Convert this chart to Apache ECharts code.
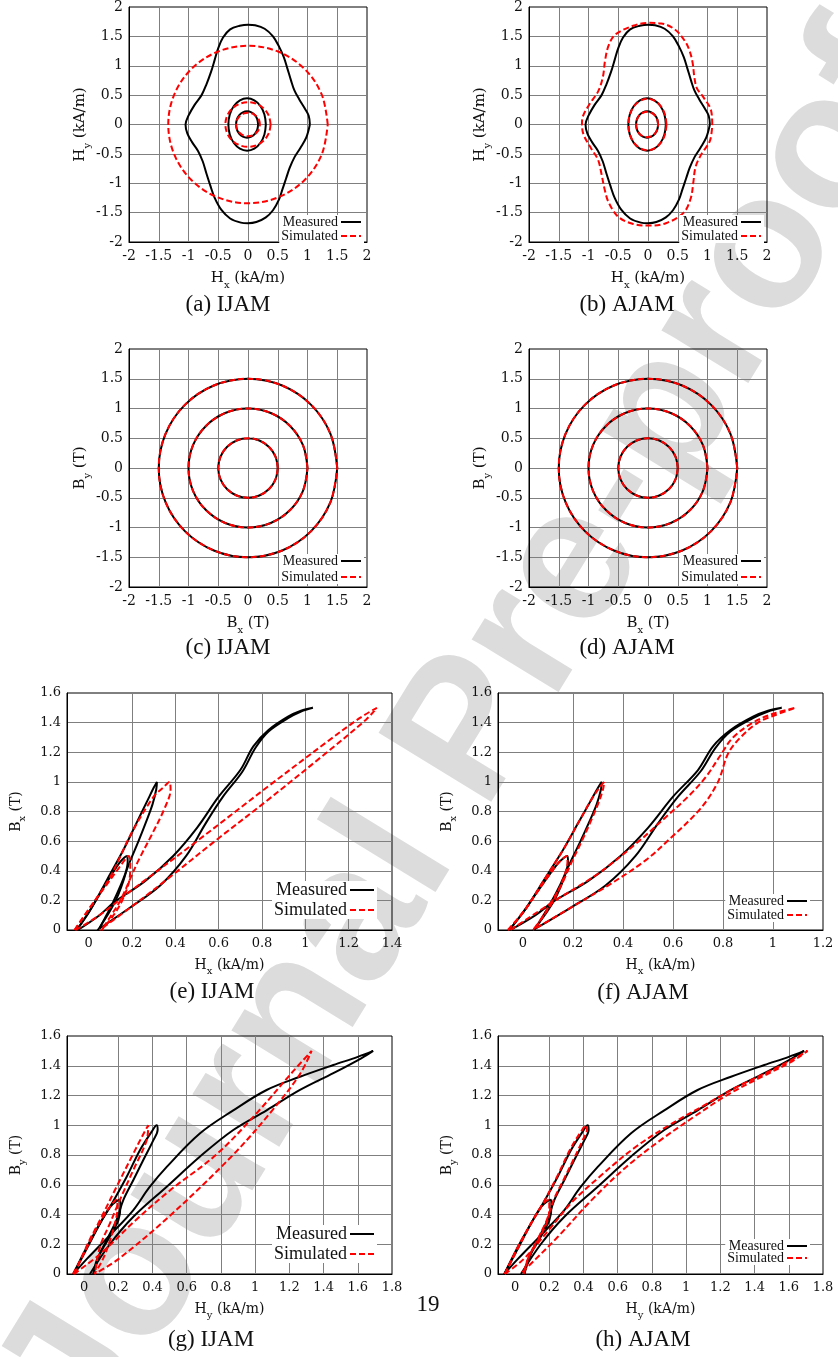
<!DOCTYPE html>
<html><head><meta charset="utf-8">
<script src="https://cdn.jsdelivr.net/npm/echarts@6/dist/echarts.min.js"></script>
<style>html,body{margin:0;padding:0;background:#fff}#c{width:838px;height:1357px}</style>
</head><body><div id="c"></div>
<script>
// ---------- H loci (kA/m) ----------
const hMeasOuter = [[1.04,0],[1.02,0.15],[0.95,0.28],[0.86,0.43],[0.78,0.58],[0.72,0.76],[0.66,0.96],[0.6,1.15],[0.52,1.33],[0.42,1.5],[0.28,1.63],[0.12,1.69],[0,1.7],[-0.14,1.68],[-0.3,1.62],[-0.42,1.48],[-0.5,1.3],[-0.56,1.1],[-0.62,0.9],[-0.7,0.68],[-0.78,0.5],[-0.9,0.33],[-1,0.15],[-1.05,0],[-1.02,-0.15],[-0.94,-0.3],[-0.84,-0.45],[-0.76,-0.63],[-0.7,-0.83],[-0.63,-1.05],[-0.56,-1.25],[-0.45,-1.45],[-0.3,-1.6],[-0.12,-1.67],[0,-1.68],[0.14,-1.66],[0.3,-1.58],[0.42,-1.46],[0.52,-1.28],[0.58,-1.1],[0.64,-0.92],[0.7,-0.74],[0.78,-0.56],[0.88,-0.4],[0.98,-0.22],[1.04,0]];
const hMeasMid = [[0.3,0],[0.276,0.17],[0.208,0.315],[0.106,0.411],[-0.015,0.445],[-0.136,0.411],[-0.238,0.315],[-0.306,0.17],[-0.33,0],[-0.306,-0.17],[-0.238,-0.315],[-0.136,-0.411],[-0.015,-0.445],[0.106,-0.411],[0.208,-0.315],[0.276,-0.17],[0.3,0]];
const hMeasInner = [[0.17,0],[0.156,0.086],[0.116,0.159],[0.056,0.208],[-0.015,0.225],[-0.086,0.208],[-0.146,0.159],[-0.186,0.086],[-0.2,0],[-0.186,-0.086],[-0.146,-0.159],[-0.086,-0.208],[-0.015,-0.225],[0.056,-0.208],[0.116,-0.159],[0.156,-0.086],[0.17,0]];
const hIjamOuter = [[1.34,0],[1.238,0.513],[0.948,0.948],[0.513,1.238],[0,1.34],[-0.513,1.238],[-0.948,0.948],[-1.238,0.513],[-1.34,0],[-1.238,-0.513],[-0.948,-0.948],[-0.513,-1.238],[0,-1.34],[0.513,-1.238],[0.948,-0.948],[1.238,-0.513],[1.34,0]];
const hIjamMid = [[0.38,0],[0.351,0.145],[0.269,0.269],[0.145,0.351],[0,0.38],[-0.145,0.351],[-0.269,0.269],[-0.351,0.145],[-0.38,0],[-0.351,-0.145],[-0.269,-0.269],[-0.145,-0.351],[0,-0.38],[0.145,-0.351],[0.269,-0.269],[0.351,-0.145],[0.38,0]];
const hIjamInner = [[0.2,0],[0.185,0.077],[0.141,0.141],[0.077,0.185],[0,0.2],[-0.077,0.185],[-0.141,0.141],[-0.185,0.077],[-0.2,0],[-0.185,-0.077],[-0.141,-0.141],[-0.077,-0.185],[0,-0.2],[0.077,-0.185],[0.141,-0.141],[0.185,-0.077],[0.2,0]];
const hAjamOuter = [[1.08,0],[1.06,0.24],[0.92,0.48],[0.82,0.62],[0.78,0.8],[0.75,1.05],[0.7,1.25],[0.62,1.42],[0.45,1.62],[0.22,1.72],[0,1.73],[-0.25,1.68],[-0.55,1.53],[-0.66,1.35],[-0.72,1.1],[-0.76,0.8],[-0.84,0.56],[-0.98,0.35],[-1.1,0.12],[-1.11,0],[-1.08,-0.18],[-0.96,-0.4],[-0.84,-0.6],[-0.78,-0.85],[-0.73,-1.1],[-0.66,-1.33],[-0.5,-1.57],[-0.26,-1.69],[0,-1.72],[0.3,-1.68],[0.6,-1.5],[0.72,-1.25],[0.76,-1],[0.8,-0.72],[0.9,-0.5],[1.04,-0.28],[1.08,0]];
const hAjamMid = [[0.31,0],[0.286,0.165],[0.216,0.31],[0.11,0.405],[-0.01,0.44],[-0.13,0.405],[-0.236,0.31],[-0.306,0.165],[-0.33,0],[-0.306,-0.165],[-0.236,-0.31],[-0.13,-0.405],[-0.01,-0.44],[0.11,-0.405],[0.216,-0.31],[0.286,-0.165],[0.31,0]];
const hAjamInner = [[0.17,0],[0.156,0.083],[0.116,0.154],[0.056,0.2],[-0.015,0.215],[-0.086,0.2],[-0.146,0.154],[-0.186,0.083],[-0.2,0],[-0.186,-0.083],[-0.146,-0.154],[-0.086,-0.2],[-0.015,-0.215],[0.056,-0.2],[0.116,-0.154],[0.156,-0.083],[0.17,0]];
// ---------- B loci (T) ----------
const bLocus05 = [[0.5,0],[0.462,0.191],[0.354,0.354],[0.191,0.462],[0,0.5],[-0.191,0.462],[-0.354,0.354],[-0.462,0.191],[-0.5,0],[-0.462,-0.191],[-0.354,-0.354],[-0.191,-0.462],[0,-0.5],[0.191,-0.462],[0.354,-0.354],[0.462,-0.191],[0.5,0]];
const bLocus10 = [[1,0],[0.924,0.383],[0.707,0.707],[0.383,0.924],[0,1],[-0.383,0.924],[-0.707,0.707],[-0.924,0.383],[-1,0],[-0.924,-0.383],[-0.707,-0.707],[-0.383,-0.924],[0,-1],[0.383,-0.924],[0.707,-0.707],[0.924,-0.383],[1,0]];
const bLocus15 = [[1.5,0],[1.386,0.574],[1.061,1.061],[0.574,1.386],[0,1.5],[-0.574,1.386],[-1.061,1.061],[-1.386,0.574],[-1.5,0],[-1.386,-0.574],[-1.061,-1.061],[-0.574,-1.386],[0,-1.5],[0.574,-1.386],[1.061,-1.061],[1.386,-0.574],[1.5,0]];
// ---------- Bx-Hx loops ----------
const mxSmall = [[-0.055,0],[0,0.12],[0.05,0.24],[0.1,0.36],[0.14,0.45],[0.165,0.49],[0.178,0.5],[0.18,0.46],[0.17,0.38],[0.15,0.29],[0.125,0.2],[0.095,0.12],[0.065,0.05],[0.045,0]];
const mxMid = [[-0.055,0],[0.01,0.14],[0.085,0.34],[0.16,0.54],[0.22,0.72],[0.27,0.87],[0.3,0.96],[0.315,1],[0.312,0.95],[0.295,0.85],[0.265,0.73],[0.23,0.6],[0.19,0.46],[0.15,0.31],[0.11,0.18],[0.075,0.08],[0.045,0]];
const mxLarge = [[-0.05,0],[0.05,0.1],[0.12,0.19],[0.26,0.33],[0.39,0.5],[0.5,0.69],[0.6,0.9],[0.7,1.08],[0.76,1.24],[0.83,1.35],[0.92,1.44],[0.98,1.48],[1.035,1.5],[0.98,1.475],[0.92,1.43],[0.83,1.34],[0.77,1.23],[0.71,1.07],[0.62,0.9],[0.54,0.72],[0.45,0.5],[0.33,0.3],[0.19,0.15],[0.04,0]];
const sxIjamSmall = [[-0.065,0],[0,0.14],[0.08,0.3],[0.14,0.42],[0.17,0.48],[0.185,0.5],[0.192,0.45],[0.19,0.36],[0.155,0.2],[0.11,0.09],[0.06,0]];
const sxIjamMid = [[-0.065,0],[0.02,0.18],[0.1,0.36],[0.2,0.66],[0.3,0.9],[0.35,0.97],[0.372,1],[0.378,0.95],[0.35,0.82],[0.29,0.64],[0.23,0.47],[0.19,0.34],[0.15,0.21],[0.1,0.09],[0.06,0]];
const sxIjamLarge = [[-0.06,0],[0.05,0.1],[0.2,0.27],[0.5,0.6],[0.82,0.96],[1.1,1.27],[1.25,1.43],[1.33,1.5],[1.28,1.42],[1.1,1.2],[0.82,0.87],[0.6,0.62],[0.36,0.34],[0.2,0.16],[0.05,0]];
const sxAjamSmall = [[-0.06,0],[0,0.12],[0.05,0.24],[0.1,0.36],[0.14,0.45],[0.165,0.49],[0.175,0.5],[0.178,0.46],[0.168,0.38],[0.148,0.29],[0.122,0.2],[0.092,0.12],[0.062,0.05],[0.04,0]];
const sxAjamMid = [[-0.06,0],[0.01,0.14],[0.085,0.34],[0.16,0.54],[0.22,0.72],[0.27,0.87],[0.305,0.96],[0.325,1],[0.32,0.95],[0.3,0.85],[0.27,0.73],[0.235,0.6],[0.195,0.46],[0.155,0.31],[0.11,0.18],[0.075,0.08],[0.045,0]];
const sxAjamLarge = [[-0.05,0],[0.12,0.19],[0.3,0.38],[0.45,0.58],[0.57,0.76],[0.66,0.9],[0.73,1.03],[0.79,1.18],[0.84,1.3],[0.92,1.4],[1,1.46],[1.09,1.5],[1,1.445],[0.94,1.4],[0.87,1.3],[0.82,1.19],[0.78,1.0],[0.71,0.82],[0.59,0.62],[0.49,0.47],[0.34,0.3],[0.2,0.16],[0.04,0]];
// ---------- By-Hy loops ----------
const mySmall = [[-0.063,0],[0.015,0.18],[0.093,0.34],[0.151,0.45],[0.19,0.49],[0.21,0.5],[0.212,0.45],[0.2,0.36],[0.15,0.25],[0.095,0.14],[0.054,0]];
const myMid = [[-0.063,0],[0.02,0.18],[0.093,0.34],[0.151,0.45],[0.249,0.654],[0.327,0.834],[0.395,0.957],[0.424,1],[0.43,0.97],[0.405,0.9],[0.346,0.766],[0.288,0.632],[0.229,0.497],[0.19,0.363],[0.132,0.229],[0.074,0.094],[0.054,0]];
const myLarge = [[-0.063,0],[0.015,0.1],[0.15,0.26],[0.288,0.43],[0.38,0.58],[0.483,0.72],[0.678,0.946],[0.872,1.1],[1.067,1.237],[1.262,1.326],[1.457,1.405],[1.6,1.46],[1.69,1.5],[1.62,1.45],[1.457,1.35],[1.262,1.237],[1.067,1.1],[0.872,0.968],[0.678,0.79],[0.483,0.587],[0.288,0.385],[0.15,0.2],[0.034,0]];
const syIjamSmall = [[-0.065,0],[0,0.14],[0.06,0.28],[0.12,0.4],[0.17,0.48],[0.19,0.5],[0.195,0.44],[0.18,0.34],[0.15,0.22],[0.11,0.1],[0.06,0]];
const syIjamMid = [[-0.055,0],[0.02,0.2],[0.093,0.363],[0.19,0.587],[0.288,0.81],[0.346,0.94],[0.375,1],[0.366,0.9],[0.288,0.7],[0.21,0.5],[0.151,0.34],[0.093,0.184],[0.064,0]];
const syIjamLarge = [[-0.06,0],[0.1,0.14],[0.3,0.36],[0.5,0.56],[0.77,0.8],[1,1.07],[1.22,1.36],[1.33,1.5],[1.26,1.34],[1.1,1.1],[0.87,0.8],[0.5,0.39],[0.2,0.1],[0.06,0]];
const syAjamSmall = [[-0.06,0],[0.015,0.18],[0.093,0.34],[0.15,0.45],[0.18,0.49],[0.197,0.5],[0.2,0.45],[0.19,0.36],[0.145,0.25],[0.09,0.14],[0.05,0]];
const syAjamMid = [[-0.06,0],[0.02,0.18],[0.093,0.34],[0.151,0.45],[0.245,0.654],[0.32,0.834],[0.385,0.957],[0.415,1],[0.42,0.97],[0.395,0.9],[0.34,0.766],[0.283,0.632],[0.225,0.497],[0.185,0.363],[0.13,0.229],[0.072,0.094],[0.05,0]];
const syAjamLarge = [[-0.06,0],[0.05,0.1],[0.2,0.3],[0.33,0.48],[0.5,0.66],[0.7,0.85],[0.9,1],[1.1,1.13],[1.3,1.26],[1.5,1.37],[1.65,1.46],[1.71,1.5],[1.62,1.43],[1.45,1.33],[1.25,1.21],[1.05,1.06],[0.85,0.9],[0.65,0.72],[0.45,0.5],[0.25,0.25],[0.12,0.1],[0.03,0]];
// ---------- ticks / labels ----------
const hxTicksE = [0,0.2,0.4,0.6,0.8,1,1.2,1.4];
const hxTicksF = [0,0.2,0.4,0.6,0.8,1,1.2];
const hyTicks = [0,0.2,0.4,0.6,0.8,1,1.2,1.4,1.6,1.8];
const legendNames = ['Measured','Simulated'];
const captions = ['(a) IJAM','(b) AJAM','(c) IJAM','(d) AJAM','(e) IJAM','(f) AJAM','(g) IJAM','(h) AJAM'];

const SERIF = '"DejaVu Serif", serif';
const LSERIF = '"Liberation Serif", serif';
const panels = [
  {g:[129,5,238,237], x:'H', xs:'x', y:'H', ys:'y', unit:'kA/m', yunit:'kA/m', xr:[-2,2], yr:[-2,2], meas:[hMeasOuter,hMeasMid,hMeasInner], sim:[hIjamOuter,hIjamMid,hIjamInner], leg:{right:474, top:215, fs:14, gap:0, w:20}, cap:[228,305]},
  {g:[529,5,238,237], x:'H', xs:'x', y:'H', ys:'y', unit:'kA/m', yunit:'kA/m', xr:[-2,2], yr:[-2,2], meas:[hMeasOuter,hMeasMid,hMeasInner], sim:[hAjamOuter,hAjamMid,hAjamInner], leg:{right:74, top:215, fs:14, gap:0, w:20}, cap:[627,305]},
  {g:[129,349,238,238], x:'B', xs:'x', y:'B', ys:'y', unit:'T', yunit:'T', xr:[-2,2], yr:[-2,2], meas:[bLocus15,bLocus10,bLocus05], sim:[bLocus15,bLocus10,bLocus05], leg:{right:474, top:554, fs:14, gap:2, w:20}, cap:[228,648]},
  {g:[529,349,238,238], x:'B', xs:'x', y:'B', ys:'y', unit:'T', yunit:'T', xr:[-2,2], yr:[-2,2], meas:[bLocus15,bLocus10,bLocus05], sim:[bLocus15,bLocus10,bLocus05], leg:{right:74, top:554, fs:14, gap:2, w:20}, cap:[627,648]},
  {g:[67,693,325,237], x:'H', xs:'x', y:'B', ys:'x', unit:'kA/m', yunit:'T', xr:[-0.1,1.4], yr:[0,1.6], xt:hxTicksE, meas:[mxSmall,mxMid,mxLarge], sim:[sxIjamSmall,sxIjamMid,sxIjamLarge], leg:{right:461, top:881, fs:18, gap:2, w:24}, cap:[212,992]},
  {g:[498,693,325,237], x:'H', xs:'x', y:'B', ys:'x', unit:'kA/m', yunit:'T', xr:[-0.1,1.2], yr:[0,1.6], xt:hxTicksF, meas:[mxSmall,mxMid,mxLarge], sim:[sxAjamSmall,sxAjamMid,sxAjamLarge], leg:{right:28, top:894, fs:14, gap:0, w:20}, cap:[643,993]},
  {g:[67,1036,325,238], x:'H', xs:'y', y:'B', ys:'y', unit:'kA/m', yunit:'T', xr:[-0.1,1.8], yr:[0,1.6], xt:hyTicks, meas:[mySmall,myMid,myLarge], sim:[syIjamSmall,syIjamMid,syIjamLarge], leg:{right:461, top:1225, fs:18, gap:2, w:24}, cap:[211,1340]},
  {g:[498,1036,325,238], x:'H', xs:'y', y:'B', ys:'y', unit:'kA/m', yunit:'T', xr:[-0.1,1.8], yr:[0,1.6], xt:hyTicks, meas:[mySmall,myMid,myLarge], sim:[syAjamSmall,syAjamMid,syAjamLarge], leg:{right:28, top:1239, fs:14, gap:-2, w:20}, cap:[643,1340]}
];

const grids=[], xAxes=[], yAxes=[], series=[], legends=[], graphics=[];
const richFor = fs => ({m:{fontSize:fs, fontFamily:SERIF, color:'#111', lineHeight:fs+8, verticalAlign:'middle'}, s:{fontSize:Math.round(fs*0.68), fontFamily:SERIF, color:'#111', lineHeight:fs+8, verticalAlign:'bottom'}});
panels.forEach((p,i)=>{
  const small = i<4;
  const lfs = small?14:13, nfs = small?15:14;
  grids.push({left:p.g[0], top:p.g[1], width:p.g[2], height:p.g[3], show:true, borderColor:'#000', borderWidth:1, containLabel:false});
  const split = {show:true, showMinLine:false, showMaxLine:false, lineStyle:{color:'#7f7f7f', width:1}};
  const xa = {type:'value', gridIndex:i, min:p.xr[0], max:p.xr[1],
    axisLine:{show:true, onZero:false, lineStyle:{color:'#000', width:1}},
    axisTick:{show:false}, splitLine:split,
    axisLabel:{fontFamily:SERIF, fontSize:lfs, color:'#111', margin:7},
    name:'{m|'+p.x+'}{s|'+p.xs+'}{m| ('+p.unit+')}', nameLocation:'middle', nameGap:small?25:24,
    nameTextStyle:{rich:richFor(nfs)}};
  if (p.xt) { xa.axisTick.customValues = p.xt; xa.axisLabel.customValues = p.xt; }
  else { xa.interval = 0.5; }
  xAxes.push(xa);
  yAxes.push({type:'value', gridIndex:i, min:p.yr[0], max:p.yr[1], interval: small?0.5:0.2,
    axisLine:{show:true, onZero:false, lineStyle:{color:'#000', width:1}},
    axisTick:{show:false}, splitLine:split,
    axisLabel:{fontFamily:SERIF, fontSize:lfs, color:'#111', margin:6},
    name:'{m|'+p.y+'}{s|'+p.ys+'}{m| ('+p.yunit+')}', nameLocation:'middle', nameRotate:90, nameGap:small?35:40,
    nameTextStyle:{rich:richFor(nfs)}});
  const w = 2;
  p.meas.forEach(d=>series.push({type:'line', name:'Measured', xAxisIndex:i, yAxisIndex:i, data:d, symbol:'none', smooth:0.35, z:2,
    lineStyle:{color:'#000', width:w}, itemStyle:{color:'#000'}, silent:true, animation:false}));
  p.sim.forEach(d=>series.push({type:'line', name:'Simulated', xAxisIndex:i, yAxisIndex:i, data:d, symbol:'none', smooth:0.35, z:3,
    lineStyle:{color:'#ff0000', width:w, type:[6,3]}, itemStyle:{color:'#ff0000'}, silent:true, animation:false}));
  legends.push({data:legendNames, orient:'vertical', align:'right', right:p.leg.right, top:p.leg.top,
    itemWidth:p.leg.w, itemHeight:10, itemGap:p.leg.gap, selectedMode:false, backgroundColor:'#fff',
    itemStyle:{color:'rgba(0,0,0,0)', borderColor:'rgba(0,0,0,0)', borderWidth:0},
    padding:[0,2,0,2], textStyle:{fontFamily:LSERIF, fontSize:p.leg.fs, color:'#111', padding:[0,-2,0,0]}});
  graphics.push({type:'text', x:p.cap[0], y:p.cap[1], silent:true,
    style:{text:captions[i], align:'center', verticalAlign:'middle', fontSize:23, fontFamily:LSERIF, fill:'#111'}});
});
graphics.push({type:'text', x:428, y:1305, silent:true, style:{text:'19', align:'center', verticalAlign:'middle', fontSize:23, fontFamily:LSERIF, fill:'#111'}});
graphics.unshift({type:'text', x:470, y:735, rotation:1.02, z:-10, silent:true,
  style:{text:'Journal Pre-proof', align:'center', verticalAlign:'middle', fontSize:192, fontWeight:'bold', fontFamily:'"Liberation Sans", sans-serif', fill:'#dcdcdc'}});

const chart = echarts.init(document.getElementById('c'), null, {renderer:'canvas'});
chart.setOption({animation:false, backgroundColor:'#fff', grid:grids, xAxis:xAxes, yAxis:yAxes, series:series, legend:legends, graphic:graphics});
</script></body></html>
